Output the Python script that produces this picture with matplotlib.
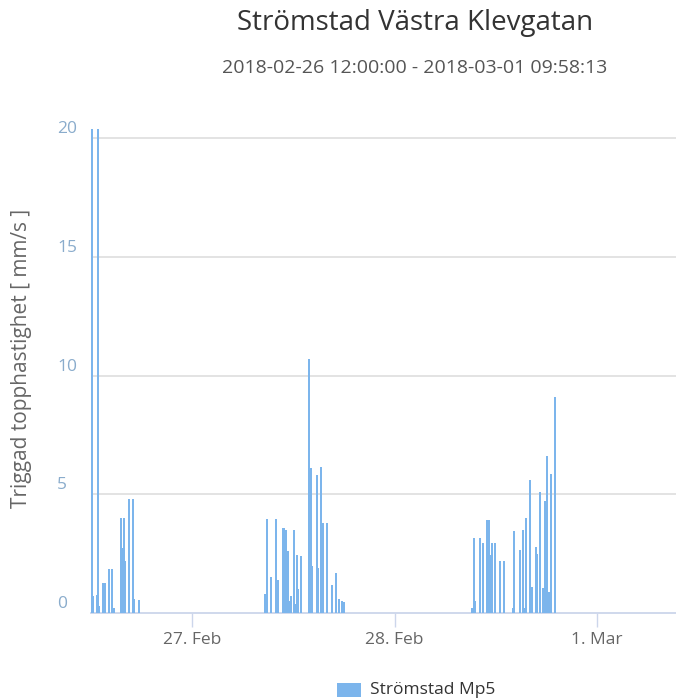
import matplotlib
matplotlib.use('Agg')
import matplotlib.pyplot as plt
import matplotlib.dates as mdates
import matplotlib.transforms as mtransforms
from matplotlib.patches import Rectangle
import numpy as np
import pandas as pd

plt.rcParams['font.family'] = ['Open Sans', 'DejaVu Sans']

title = 'Strömstad Västra Klevgatan'
subtitle = '2018-02-26 12:00:00 - 2018-03-01 09:58:13'
y_title = 'Triggad topphastighet [ mm/s ]'
series_name = 'Strömstad Mp5'
x_start = '2018-02-26 12:00:00'
x_end = '2018-03-01 09:58:13'

# triggered events (time, peak velocity mm/s)
times = [
    '2018-02-26 12:07', '2018-02-26 12:14', '2018-02-26 12:43', '2018-02-26 12:50',
    '2018-02-26 12:57', '2018-02-26 13:25', '2018-02-26 13:40', '2018-02-26 14:08',
    '2018-02-26 14:29', '2018-02-26 14:44', '2018-02-26 15:33', '2018-02-26 15:47',
    '2018-02-26 15:55', '2018-02-26 16:02', '2018-02-26 16:30', '2018-02-26 16:59',
    '2018-02-26 17:06', '2018-02-26 17:41',
    '2018-02-27 08:37', '2018-02-27 08:52', '2018-02-27 09:20', '2018-02-27 09:56',
    '2018-02-27 10:10', '2018-02-27 10:46', '2018-02-27 10:56', '2018-02-27 11:07',
    '2018-02-27 11:21', '2018-02-27 11:35', '2018-02-27 11:42', '2018-02-27 12:04',
    '2018-02-27 12:18', '2018-02-27 12:25', '2018-02-27 12:32', '2018-02-27 12:53',
    '2018-02-27 13:50', '2018-02-27 13:57', '2018-02-27 14:04', '2018-02-27 14:11',
    '2018-02-27 14:47', '2018-02-27 14:54', '2018-02-27 15:15', '2018-02-27 15:30',
    '2018-02-27 15:58', '2018-02-27 16:34', '2018-02-27 17:02', '2018-02-27 17:23',
    '2018-02-27 17:45', '2018-02-27 17:59',
    '2018-02-28 09:10', '2018-02-28 09:23', '2018-02-28 09:31', '2018-02-28 10:06',
    '2018-02-28 10:28', '2018-02-28 10:56', '2018-02-28 11:10', '2018-02-28 11:24',
    '2018-02-28 11:32', '2018-02-28 11:53', '2018-02-28 12:28', '2018-02-28 12:57',
    '2018-02-28 14:01', '2018-02-28 14:08', '2018-02-28 14:51', '2018-02-28 15:12',
    '2018-02-28 15:19', '2018-02-28 15:33', '2018-02-28 16:02', '2018-02-28 16:16',
    '2018-02-28 16:45', '2018-02-28 16:52', '2018-02-28 17:13', '2018-02-28 17:34',
    '2018-02-28 17:48', '2018-02-28 18:03', '2018-02-28 18:17', '2018-02-28 18:31',
    '2018-02-28 18:59',
]
values = [
    20.4, 0.7, 0.75, 20.4,
    0.3, 1.25, 1.25, 1.85,
    1.85, 0.2, 4.0, 2.75,
    4.0, 2.2, 4.8, 4.8,
    0.6, 0.55,
    0.8, 3.95, 1.5, 3.95,
    1.4, 3.6, 3.6, 3.5,
    2.6, 0.5, 0.7, 3.5,
    0.4, 2.45, 1.0, 2.4,
    10.7, 6.1, 6.1, 2.0,
    5.8, 1.9, 6.15, 3.8,
    3.8, 1.2, 1.7, 0.6,
    0.5, 0.45,
    0.2, 3.15, 0.5, 3.15,
    2.95, 3.9, 3.9, 2.45,
    2.95, 2.95, 2.2, 2.2,
    0.2, 3.45, 2.65, 3.5,
    0.2, 4.0, 5.6, 1.1,
    2.8, 2.5, 5.1, 1.05,
    4.7, 6.6, 0.9, 5.85,
    9.1,
]
y_ticks = [0, 5, 10, 15, 20]
x_ticks = ['2018-02-27', '2018-02-28', '2018-03-01']
x_tick_labels = ['27. Feb', '28. Feb', '1. Mar']

t = mdates.date2num(pd.to_datetime(times))
x0 = mdates.date2num(pd.Timestamp(x_start))
x1 = mdates.date2num(pd.Timestamp(x_end))

fig = plt.figure(figsize=(6.76, 6.98), dpi=100)
ax = fig.add_axes([91 / 676, 1 - 613 / 698, 590 / 676, 484 / 698])

bar_color = '#7cb5ec'
ax.bar(t, values, width=0.009, color=bar_color, linewidth=0, align='center', zorder=3)

ax.set_xlim(x0, x1)
ax.set_ylim(0, 20.4)

# grid
for v in y_ticks[1:]:
    ax.axhline(v, color='#e0e0e0', lw=1.3, zorder=1)
for s in ['top', 'right', 'left']:
    ax.spines[s].set_visible(False)
ax.spines['bottom'].set_color('#ccd6eb')
ax.spines['bottom'].set_linewidth(1.3)

# x ticks
xt = mdates.date2num(pd.to_datetime(x_ticks))
ax.set_xticks(xt)
ax.set_xticklabels(x_tick_labels, fontsize=12.5, color='#666666')
ax.tick_params(axis='x', direction='out', length=10, width=1, color='#ccd6eb', pad=4)

# y tick labels, left aligned and slightly above the grid lines
ax.set_yticks([])
trans = mtransforms.offset_copy(ax.get_yaxis_transform(), fig=fig, x=0, y=9, units='dots')
for v in y_ticks:
    ax.text(-34 / 590, v, str(v), transform=trans, ha='left', va='center',
            fontsize=12.5, color='#8aaccc')

fig.text(22 / 676, 1 - 358 / 698, y_title, rotation=90, ha='center', va='center',
         fontsize=15, color='#666666')

fig.text(415 / 676, 1 - 23 / 698, title, ha='center', va='center', fontsize=20, color='#333333')
fig.text(415 / 676, 1 - 68 / 698, subtitle, ha='center', va='center', fontsize=14, color='#555555')

# legend
fig.add_artist(Rectangle((337 / 676, 1 - 697 / 698), 24 / 676, 14 / 698,
                         transform=fig.transFigure, color=bar_color, lw=0))
fig.text(370 / 676, 1 - 690 / 698, series_name, ha='left', va='center', fontsize=12.5, color='#333333')

fig.savefig('out.png', dpi=100)
